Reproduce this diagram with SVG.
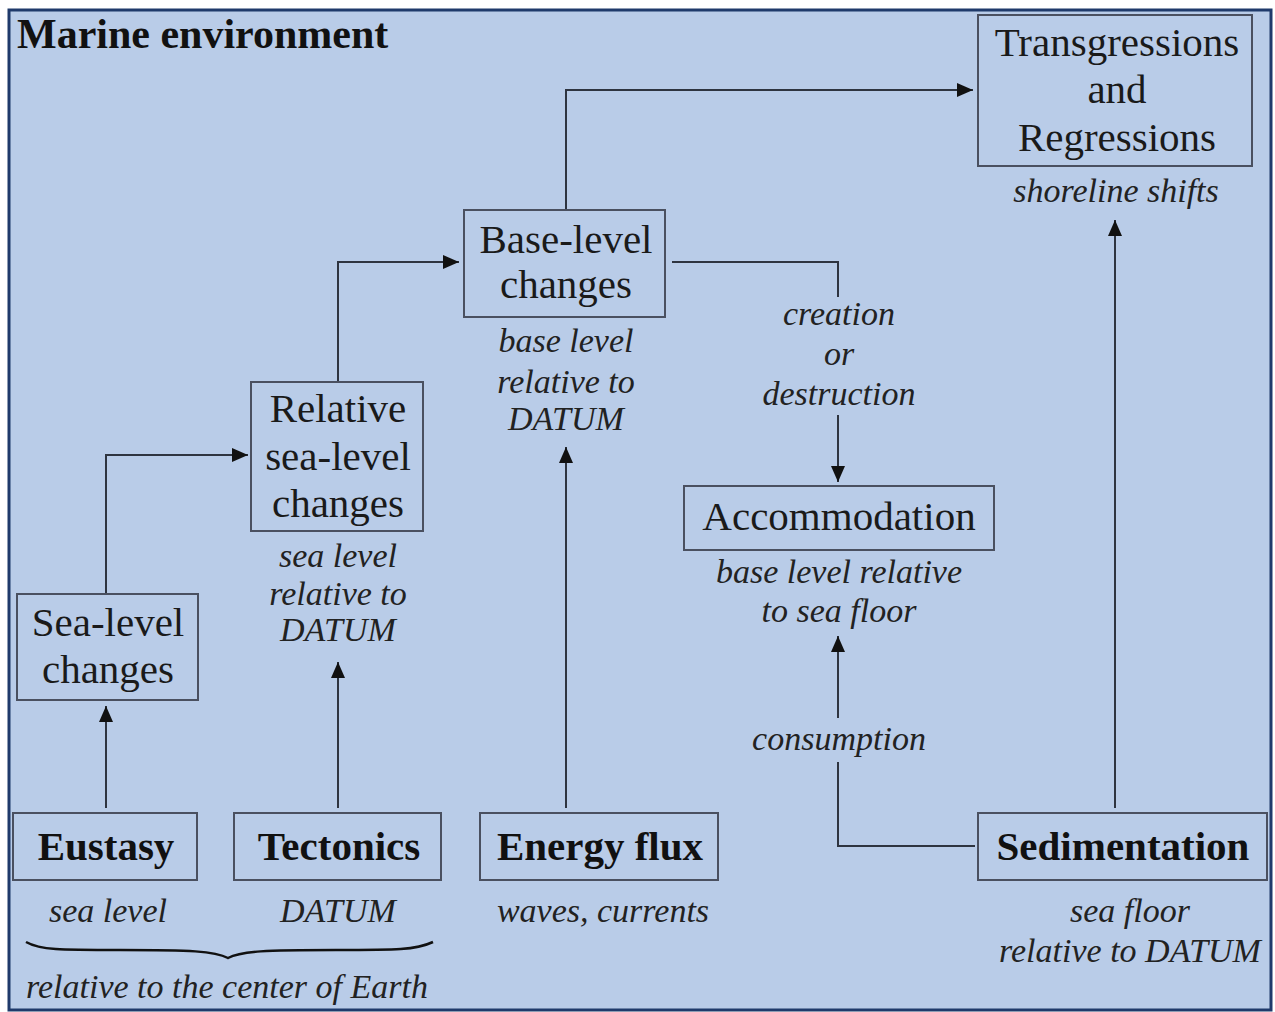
<svg xmlns="http://www.w3.org/2000/svg" width="1275" height="1012" viewBox="0 0 1275 1012">
<style>
.bg{fill:#B9CCE8;stroke:#1F3A6B;stroke-width:3}
.box{fill:none;stroke:#4A5060;stroke-width:2}
.lbl{font-family:"Liberation Serif","Times New Roman",serif;font-size:41px;fill:#1a1a1a;text-anchor:middle}
.bold{font-family:"Liberation Serif","Times New Roman",serif;font-size:41px;font-weight:bold;fill:#111;text-anchor:middle}
.it{font-family:"Liberation Serif","Times New Roman",serif;font-size:34px;font-style:italic;fill:#222;text-anchor:middle}
.title{font-family:"Liberation Serif","Times New Roman",serif;font-size:42px;font-weight:bold;fill:#111}
.conn path{fill:none;stroke:#2E3440;stroke-width:2}
</style>
<defs>
<marker id="ah" viewBox="0 0 16 14" refX="16" refY="7" markerWidth="16" markerHeight="14" markerUnits="userSpaceOnUse" orient="auto">
<path d="M0,0 L16,7 L0,14 z" fill="#111"/>
</marker>
</defs>
<rect width="1275" height="1012" fill="#ffffff"/>
<rect class="bg" x="9" y="10" width="1262" height="1000"/>
<text class="title" x="17" y="48">Marine environment</text>

<g id="connectors" class="conn">
<path d="M106,808 V706" marker-end="url(#ah)"/>
<path d="M338,808 V662" marker-end="url(#ah)"/>
<path d="M106,594 V455 H248" marker-end="url(#ah)"/>
<path d="M338,382 V262 H459" marker-end="url(#ah)"/>
<path d="M566,808 V447" marker-end="url(#ah)"/>
<path d="M566,210 V90 H973" marker-end="url(#ah)"/>
<path d="M672,262 H838 V297"/>
<path d="M838,415 V482" marker-end="url(#ah)"/>
<path d="M975,846 H838 V762"/>
<path d="M838,718 V636" marker-end="url(#ah)"/>
<path d="M1115,808 V220" marker-end="url(#ah)"/>
<path d="M26,942 C40,950 60,950 120,950 C190,950 215,951 228,958 C241,951 266,950 336,950 C396,950 416,950 433,942" style="stroke:#111;stroke-width:2.5"/>
</g>

<g id="transgressions">
<rect class="box" x="978" y="15" width="274" height="151"/>
<text class="lbl" x="1117" y="56">Transgressions</text>
<text class="lbl" x="1117" y="103">and</text>
<text class="lbl" x="1117" y="151">Regressions</text>
<text class="it" x="1116" y="202">shoreline shifts</text>
</g>

<g id="base-level">
<rect class="box" x="464" y="210" width="201" height="107"/>
<text class="lbl" x="566" y="253">Base-level</text>
<text class="lbl" x="566" y="298">changes</text>
<text class="it" x="566" y="352">base level</text>
<text class="it" x="566" y="393">relative to</text>
<text class="it" x="566" y="430">DATUM</text>
</g>

<g id="relative-sea-level">
<rect class="box" x="251" y="382" width="172" height="149"/>
<text class="lbl" x="338" y="422">Relative</text>
<text class="lbl" x="338" y="470">sea-level</text>
<text class="lbl" x="338" y="517">changes</text>
<text class="it" x="338" y="567">sea level</text>
<text class="it" x="338" y="605">relative to</text>
<text class="it" x="338" y="641">DATUM</text>
</g>

<g id="sea-level">
<rect class="box" x="17" y="594" width="181" height="106"/>
<text class="lbl" x="108" y="636">Sea-level</text>
<text class="lbl" x="108" y="683">changes</text>
</g>

<g id="creation-label">
<text class="it" x="839" y="325">creation</text>
<text class="it" x="839" y="365">or</text>
<text class="it" x="839" y="405">destruction</text>
</g>

<g id="accommodation">
<rect class="box" x="684" y="486" width="310" height="64"/>
<text class="lbl" x="839" y="530">Accommodation</text>
<text class="it" x="839" y="583">base level relative</text>
<text class="it" x="839" y="622">to sea floor</text>
</g>

<g id="consumption-label">
<text class="it" x="839" y="750">consumption</text>
</g>

<g id="eustasy">
<rect class="box" x="13" y="813" width="184" height="67"/>
<text class="bold" x="106" y="860">Eustasy</text>
<text class="it" x="108" y="922">sea level</text>
</g>

<g id="tectonics">
<rect class="box" x="234" y="813" width="207" height="67"/>
<text class="bold" x="339" y="860">Tectonics</text>
<text class="it" x="338" y="922">DATUM</text>
</g>

<g id="earth-label">
<text class="it" x="227" y="998">relative to the center of Earth</text>
</g>

<g id="energy-flux">
<rect class="box" x="480" y="813" width="238" height="67"/>
<text class="bold" x="600" y="860">Energy flux</text>
<text class="it" x="603" y="922">waves, currents</text>
</g>

<g id="sedimentation">
<rect class="box" x="978" y="813" width="289" height="67"/>
<text class="bold" x="1123" y="860">Sedimentation</text>
<text class="it" x="1130" y="922">sea floor</text>
<text class="it" x="1130" y="962">relative to DATUM</text>
</g>
</svg>
